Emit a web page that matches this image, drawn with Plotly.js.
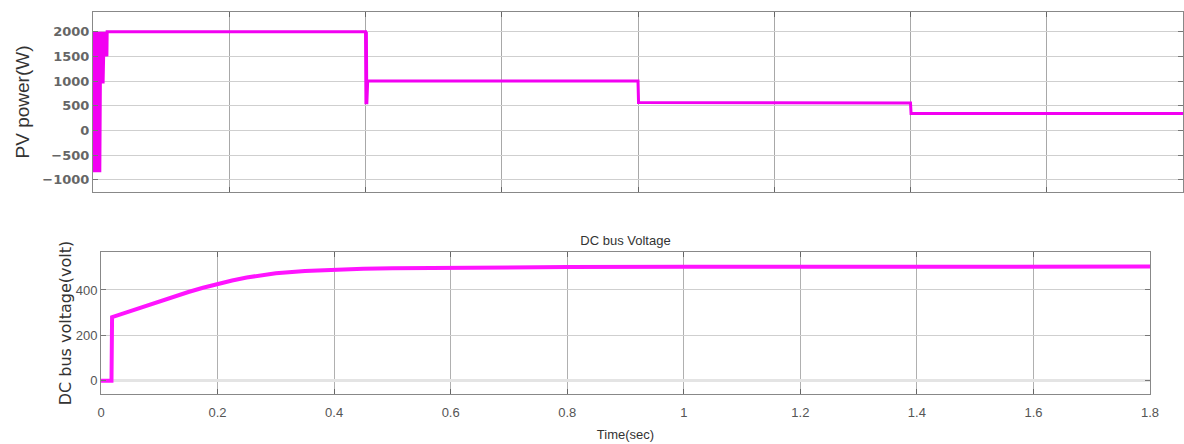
<!DOCTYPE html>
<html>
<head>
<meta charset="utf-8">
<script src="https://cdn.plot.ly/plotly-3.0.1.min.js"></script>
<style>html,body{margin:0;padding:0;background:#fff;}#chart{width:1184px;height:444px;}</style>
</head>
<body>
<div id="chart"></div>
<script>
// PV power (top panel)
const pvTime = [0, 0.0005, 0.001, 0.0015, 0.002, 0.0025, 0.003, 0.0035, 0.004, 0.0045, 0.005, 0.0055,
  0.006, 0.0065, 0.007, 0.0075, 0.008, 0.0085, 0.009, 0.0095, 0.010, 0.0105, 0.011, 0.0115, 0.012, 0.0125,
  0.013, 0.0135, 0.014, 0.0145, 0.015, 0.0155, 0.016, 0.0165, 0.017, 0.0175, 0.018, 0.0185,
  0.019, 0.0195, 0.020, 0.0205, 0.021, 0.0215, 0.022, 0.0225, 0.023, 0.0235, 0.024, 0.0245, 0.025, 0.0255, 0.026,
  0.5, 0.5008, 0.5016, 0.5024, 0.5032, 0.504, 1.0, 1.001, 1.5, 1.501, 2.0];
const pvPower = [2000, -850, 2000, -850, 2000, -850, 2000, -850, 2000, -850, 2000, -850,
  2000, -850, 2000, -850, 2000, -850, 2000, -850, 2000, -850, 2000, -850, 2000, -850,
  2000, 950, 2000, 950, 2000, 950, 2000, 950, 2000, 950, 2000, 950,
  2000, 1500, 2000, 1500, 2000, 1500, 2000, 1500, 2000, 1500, 2000, 1500, 2000, 1500, 2000,
  2000, 530, 2000, 530, 1000, 1000, 1000, 565, 555, 340, 340];

// DC bus voltage (bottom panel)
const vTime = [0, 0.018, 0.019, 0.05, 0.075, 0.1, 0.125, 0.15, 0.175, 0.2, 0.225, 0.25, 0.275, 0.3,
  0.35, 0.4, 0.45, 0.5, 0.6, 0.8, 1.0, 1.2, 1.4, 1.6, 1.8];
const vVolt = [0, 0, 280, 307, 329, 350, 371, 391, 410, 427, 442, 455, 465, 474,
  484, 490, 494, 496, 499, 501, 502, 502, 503, 503, 503];

const pvTicks = [-1000, -500, 0, 500, 1000, 1500, 2000];
const vTicks = [0, 200, 400];

const W = 1184, H = 444;
const fTop = {family: 'DejaVu Sans', size: 13, color: '#666', weight: 'bold'};
const fBot = {family: 'Liberation Sans, Arial', size: 13, color: '#555'};

const traces = [
  {x: pvTime, y: pvPower, type: 'scatter', mode: 'lines', xaxis: 'x', yaxis: 'y',
   line: {color: '#f200f2', width: 3}, showlegend: false},
  {x: vTime, y: vVolt, type: 'scatter', mode: 'lines', xaxis: 'x2', yaxis: 'y2',
   line: {color: '#ff14ff', width: 4}, showlegend: false}
];

const layout = {
  width: W, height: H,
  margin: {l: 0, r: 0, t: 0, b: 0},
  paper_bgcolor: '#ffffff', plot_bgcolor: '#ffffff',
  showlegend: false,
  title: {text: 'DC bus Voltage', x: 625.5 / W, xanchor: 'center', y: 1 - 240 / H, yanchor: 'middle',
          xref: 'paper', yref: 'paper',
          font: {family: 'Liberation Sans, Arial', size: 13, color: '#333'}},
  xaxis: {domain: [93 / W, 1183 / W], range: [0, 2], dtick: 0.25, tick0: 0,
          showticklabels: false, showgrid: true, gridcolor: '#a8a8a8', gridwidth: 1,
          ticks: 'inside', ticklen: 5, tickcolor: '#666', mirror: 'all',
          showline: true, linecolor: '#888', linewidth: 1, zeroline: false, anchor: 'y'},
  yaxis: {domain: [1 - 192 / H, 1 - 12 / H], range: [-1250, 2400], tickvals: pvTicks,
          tickfont: fTop, showgrid: true, gridcolor: '#cfcfcf', gridwidth: 1,
          ticks: 'inside', ticklen: 5, tickcolor: '#777', mirror: 'all',
          showline: true, linecolor: '#888', linewidth: 1, zeroline: false, anchor: 'x',
          title: {text: 'PV power(W)', standoff: 7,
                  font: {family: 'Liberation Sans, Arial', size: 19, color: '#333'}}},
  xaxis2: {domain: [101 / W, 1150 / W], range: [0, 1.8], dtick: 0.2, tick0: 0,
           tickfont: fBot, showgrid: true, gridcolor: '#b0b0b0', gridwidth: 1, ticklabelstandoff: 7,
           ticks: 'inside', ticklen: 5, tickcolor: '#666', mirror: 'all',
           showline: true, linecolor: '#888', linewidth: 1, zeroline: false, anchor: 'y2',
           title: {text: 'Time(sec)', standoff: 10,
                   font: {family: 'Liberation Sans, Arial', size: 13, color: '#333'}}},
  yaxis2: {domain: [1 - 393.7 / H, 1 - 252.3 / H], range: [-57, 566], tickvals: vTicks,
           tickfont: fBot, showgrid: true, gridcolor: '#cfcfcf', gridwidth: 1,
           ticks: 'inside', ticklen: 5, tickcolor: '#777', mirror: 'all',
           showline: true, linecolor: '#888', linewidth: 1,
           zeroline: true, zerolinecolor: '#e4e4e4', zerolinewidth: 3, anchor: 'x2',
           title: {text: 'DC bus voltage(volt)', standoff: 0,
                   font: {family: 'DejaVu Sans', size: 16, color: '#333'}}}
};

Plotly.newPlot('chart', traces, layout, {displayModeBar: false, staticPlot: true});
</script>
</body>
</html>
